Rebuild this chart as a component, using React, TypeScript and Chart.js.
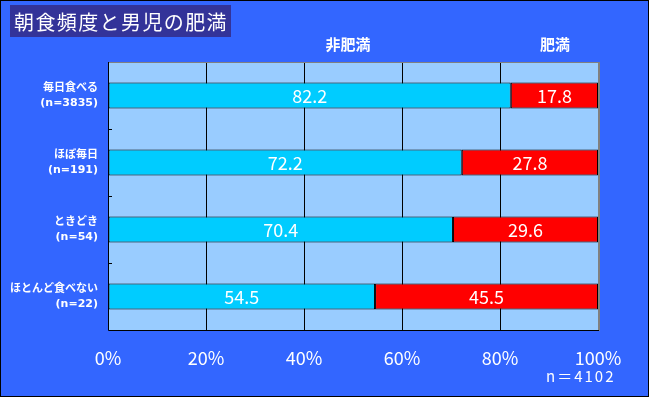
import React, { useEffect, useRef } from 'react';
import { Chart, registerables } from 'chart.js';
Chart.register(...registerables);

const title = '朝食頻度と男児の肥満';
const categories = [
  ['毎日食べる', '(n=3835)'],
  ['ほぼ毎日', '(n=191)'],
  ['ときどき', '(n=54)'],
  ['ほとんど食べない', '(n=22)'],
];
const seriesNames = ['非肥満', '肥満'];
const nonObese = [82.2, 72.2, 70.4, 54.5];
const obese = [17.8, 27.8, 29.6, 45.5];
const xTickValues = [0, 20, 40, 60, 80, 100];
const totalN = 'n＝4102';

const FONT = '"Noto Sans CJK JP", "Noto Sans", sans-serif';
const LABEL_FONT = '"DejaVu Sans", "Noto Sans CJK JP", sans-serif';

const decor = {
  id: 'decor',
  beforeDraw(chart: any) {
    const { ctx, chartArea: a, width, height } = chart;
    ctx.save();
    ctx.fillStyle = '#3366FF';
    ctx.fillRect(0, 0, width, height);
    ctx.fillStyle = '#99CCFF';
    ctx.fillRect(a.left, a.top, a.right - a.left, a.bottom - a.top);
    ctx.restore();
  },
  afterDatasetsDraw(chart: any) {
    const { ctx } = chart;
    ctx.save();
    ctx.fillStyle = '#FFFFFF';
    ctx.font = `18px ${FONT}`;
    ctx.textAlign = 'center';
    ctx.textBaseline = 'middle';
    chart.data.datasets.forEach((ds: any, di: number) => {
      const meta = chart.getDatasetMeta(di);
      meta.data.forEach((el: any, i: number) => {
        const v = ds.data[i];
        const cx = (el.x + el.base) / 2;
        ctx.fillText(v.toFixed(1), cx, el.y + 1);
      });
    });
    ctx.restore();
  },
  afterDraw(chart: any) {
    const { ctx, chartArea: a, width, height } = chart;
    const xs = chart.scales.x;
    const ys = chart.scales.y;
    ctx.save();
    // plot borders
    ctx.strokeStyle = '#808080';
    ctx.lineWidth = 1;
    ctx.beginPath();
    ctx.moveTo(a.left, a.top + 0.5);
    ctx.lineTo(a.right, a.top + 0.5);
    ctx.stroke();
    ctx.lineWidth = 2;
    ctx.beginPath();
    ctx.moveTo(a.right + 1, a.top);
    ctx.lineTo(a.right + 1, a.bottom + 1);
    ctx.stroke();
    ctx.strokeStyle = '#000000';
    ctx.lineWidth = 1;
    ctx.beginPath();
    ctx.moveTo(a.left + 0.5, a.top);
    ctx.lineTo(a.left + 0.5, a.bottom + 0.5);
    ctx.lineTo(a.right + 1, a.bottom + 0.5);
    ctx.stroke();
    // inward category ticks
    for (let i = 0; i < categories.length - 1; i++) {
      const yy = Math.round((ys.getPixelForValue(i) + ys.getPixelForValue(i + 1)) / 2) + 0.5;
      ctx.beginPath();
      ctx.moveTo(a.left, yy);
      ctx.lineTo(a.left + 4, yy);
      ctx.stroke();
    }
    // outer frame
    ctx.strokeRect(0.5, 0.5, width - 1, height - 1);
    // title box
    ctx.fillStyle = '#333399';
    ctx.fillRect(10, 5, 221, 32);
    ctx.fillStyle = '#FFFFFF';
    ctx.font = `20px ${FONT}`;
    (ctx as any).letterSpacing = '1.4px';
    ctx.textAlign = 'left';
    ctx.textBaseline = 'middle';
    ctx.fillText(title, 14, 22);
    (ctx as any).letterSpacing = '0px';
    // series labels
    ctx.font = `bold 15px ${FONT}`;
    ctx.textAlign = 'center';
    ctx.fillText(seriesNames[0], xs.getPixelForValue(49), 44);
    ctx.fillText(seriesNames[1], xs.getPixelForValue(91.2), 44);
    // total n
    ctx.font = `15px ${FONT}`;
    (ctx as any).letterSpacing = '2px';
    ctx.textAlign = 'left';
    ctx.fillText(totalN, 546, 376);
    (ctx as any).letterSpacing = '0px';
    ctx.restore();
  },
};

export default function App() {
  const ref = useRef<HTMLCanvasElement>(null);
  useEffect(() => {
    document.body.style.margin = '0';
    const chart = new Chart(ref.current as HTMLCanvasElement, {
      type: 'bar',
      data: {
        labels: categories,
        datasets: [
          {
            label: seriesNames[0],
            data: nonObese,
            backgroundColor: '#00CCFF',
            borderColor: '#000000',
            borderWidth: 1,
            borderSkipped: false,
            barPercentage: 0.39,
            categoryPercentage: 1,
          },
          {
            label: seriesNames[1],
            data: obese,
            backgroundColor: '#FF0000',
            borderColor: '#000000',
            borderWidth: 1,
            borderSkipped: false,
            barPercentage: 0.39,
            categoryPercentage: 1,
          },
        ],
      },
      options: {
        indexAxis: 'y',
        responsive: false,
        animation: false,
        devicePixelRatio: 1,
        layout: { padding: { top: 62, right: 51, left: 0, bottom: 0 } },
        plugins: { legend: { display: false }, tooltip: { enabled: false } },
        scales: {
          x: {
            stacked: true,
            min: 0,
            max: 100,
            afterFit: (s: any) => { s.height = 67; },
            afterBuildTicks: (s: any) => { s.ticks = xTickValues.map((v) => ({ value: v })); },
            grid: { color: '#000000', lineWidth: 1, drawTicks: false },
            border: { display: false },
            ticks: {
              color: '#FFFFFF',
              font: { family: FONT, size: 18 },
              padding: 17,
              maxRotation: 0,
              callback: (v: any) => `${v}%`,
            },
          },
          y: {
            stacked: true,
            afterFit: (s: any) => { s.width = 108; },
            grid: { display: false, drawTicks: false },
            border: { display: false },
            ticks: {
              color: '#FFFFFF',
              font: { family: LABEL_FONT, size: 11, weight: 'bold', lineHeight: 1.35 },
              padding: 10,
            },
          },
        },
      },
      plugins: [decor],
    } as any);
    return () => chart.destroy();
  }, []);
  return (
    <div style={{ width: 649, height: 397 }}>
      <canvas ref={ref} width={649} height={397} style={{ display: 'block' }} />
    </div>
  );
}
